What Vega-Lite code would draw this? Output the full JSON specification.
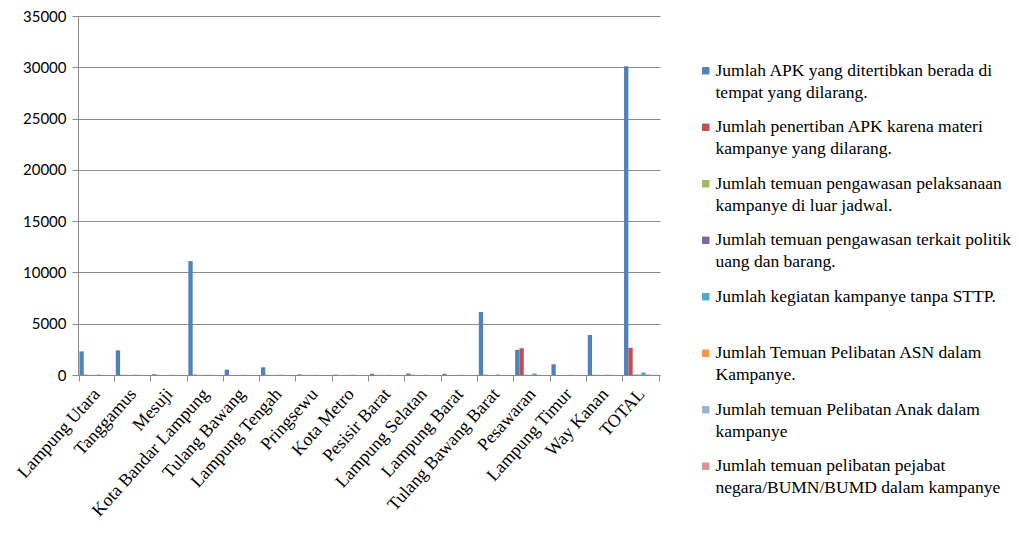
{
  "$schema": "https://vega.github.io/schema/vega-lite/v6.json",
  "width": 582,
  "height": 359,
  "autosize": {"type": "none"},
  "padding": {"left": 78, "top": 16, "right": 359, "bottom": 160},
  "background": "white",
  "data": {
    "values": [
      {"kab": "Lampung Utara", "s1": 2300, "s2": 30, "s3": 10, "s4": 5, "s5": 40, "s6": 10, "s7": 5, "s8": 5},
      {"kab": "Tanggamus", "s1": 2400, "s2": 20, "s3": 10, "s4": 5, "s5": 30, "s6": 10, "s7": 5, "s8": 5},
      {"kab": "Mesuji", "s1": 80, "s2": 10, "s3": 5, "s4": 5, "s5": 20, "s6": 5, "s7": 5, "s8": 5},
      {"kab": "Kota Bandar Lampung", "s1": 11100, "s2": 40, "s3": 10, "s4": 5, "s5": 30, "s6": 10, "s7": 5, "s8": 5},
      {"kab": "Tulang Bawang", "s1": 520, "s2": 10, "s3": 5, "s4": 5, "s5": 20, "s6": 5, "s7": 5, "s8": 5},
      {"kab": "Lampung Tengah", "s1": 750, "s2": 20, "s3": 10, "s4": 5, "s5": 30, "s6": 10, "s7": 5, "s8": 5},
      {"kab": "Pringsewu", "s1": 60, "s2": 10, "s3": 5, "s4": 5, "s5": 20, "s6": 5, "s7": 5, "s8": 5},
      {"kab": "Kota Metro", "s1": 40, "s2": 5, "s3": 5, "s4": 5, "s5": 15, "s6": 5, "s7": 5, "s8": 5},
      {"kab": "Pesisir Barat", "s1": 120, "s2": 10, "s3": 5, "s4": 5, "s5": 20, "s6": 5, "s7": 5, "s8": 5},
      {"kab": "Lampung Selatan", "s1": 150, "s2": 15, "s3": 5, "s4": 5, "s5": 25, "s6": 5, "s7": 5, "s8": 5},
      {"kab": "Lampung Barat", "s1": 110, "s2": 10, "s3": 5, "s4": 5, "s5": 20, "s6": 5, "s7": 5, "s8": 5},
      {"kab": "Tulang Bawang Barat", "s1": 6150, "s2": 30, "s3": 10, "s4": 5, "s5": 40, "s6": 10, "s7": 5, "s8": 5},
      {"kab": "Pesawaran", "s1": 2450, "s2": 2600, "s3": 20, "s4": 10, "s5": 150, "s6": 20, "s7": 10, "s8": 5},
      {"kab": "Lampung Timur", "s1": 1050, "s2": 10, "s3": 5, "s4": 5, "s5": 30, "s6": 5, "s7": 5, "s8": 5},
      {"kab": "Way Kanan", "s1": 3900, "s2": 20, "s3": 10, "s4": 5, "s5": 30, "s6": 10, "s7": 5, "s8": 5},
      {"kab": "TOTAL", "s1": 30100, "s2": 2650, "s3": 60, "s4": 30, "s5": 250, "s6": 60, "s7": 30, "s8": 20}
    ]
  },
  "transform": [
    {"fold": ["s1", "s2", "s3", "s4", "s5", "s6", "s7", "s8"], "as": ["seri", "nilai"]}
  ],
  "mark": {"type": "bar"},
  "encoding": {
    "x": {
      "field": "kab",
      "type": "nominal",
      "sort": null,
      "scale": {"paddingInner": 0.05, "paddingOuter": 0.04},
      "axis": {
        "title": null,
        "labelAngle": -48,
        "labelAlign": "right",
        "labelBaseline": "middle",
        "labelFont": "Liberation Serif",
        "labelFontSize": 18,
        "labelColor": "#000000",
        "labelPadding": 10,
        "tickBand": "extent",
        "tickColor": "#888888",
        "tickSize": 6,
        "domainColor": "#888888",
        "grid": false
      }
    },
    "xOffset": {"field": "seri", "type": "nominal", "sort": ["s1", "s2", "s3", "s4", "s5", "s6", "s7", "s8"]},
    "y": {
      "field": "nilai",
      "type": "quantitative",
      "scale": {"domain": [0, 35000], "nice": false},
      "axis": {
        "title": null,
        "values": [0, 5000, 10000, 15000, 20000, 25000, 30000, 35000],
        "format": "d",
        "labelFont": "Lato",
        "labelFontSize": 15,
        "labelColor": "#000000",
        "labelPadding": 6,
        "tickColor": "#888888",
        "tickSize": 6,
        "domainColor": "#888888",
        "gridColor": "#8c8c8c",
        "gridWidth": 1
      }
    },
    "color": {
      "field": "seri",
      "type": "nominal",
      "scale": {
        "domain": ["s1", "s2", "s3", "s4", "s5", "s6", "s7", "s8"],
        "range": ["#4F81BD", "#C0504D", "#9BBB59", "#8064A2", "#4BACC6", "#F79646", "#95B3D7", "#D99694"]
      },
      "legend": {
        "title": null,
        "orient": "none",
        "legendX": 619,
        "legendY": 46,
        "symbolType": "square",
        "symbolSize": 55,
        "symbolStrokeWidth": 0,
        "labelFont": "Liberation Serif",
        "labelFontSize": 17.5,
        "labelColor": "#000000",
        "labelLimit": 400,
        "labelBaseline": "alphabetic",
        "labelOffset": 1,
        "rowPadding": 15.5,
        "encode": {"labels": {"update": {"lineHeight": {"value": 22}, "dy": {"value": 5}}}},
        "labelExpr": "{'s1':['Jumlah APK yang ditertibkan berada di','tempat yang dilarang.'],'s2':['Jumlah penertiban  APK karena materi','kampanye yang dilarang.'],'s3':['Jumlah temuan pengawasan pelaksanaan','kampanye di luar jadwal.'],'s4':['Jumlah temuan pengawasan terkait politik','uang dan barang.'],'s5':['Jumlah kegiatan kampanye tanpa STTP.',' '],'s6':['Jumlah Temuan  Pelibatan ASN dalam','Kampanye.'],'s7':['Jumlah temuan  Pelibatan  Anak dalam','kampanye'],'s8':['Jumlah temuan  pelibatan  pejabat','negara/BUMN/BUMD dalam kampanye']}[datum.value]"
      }
    }
  },
  "config": {
    "view": {"stroke": null}
  }
}
